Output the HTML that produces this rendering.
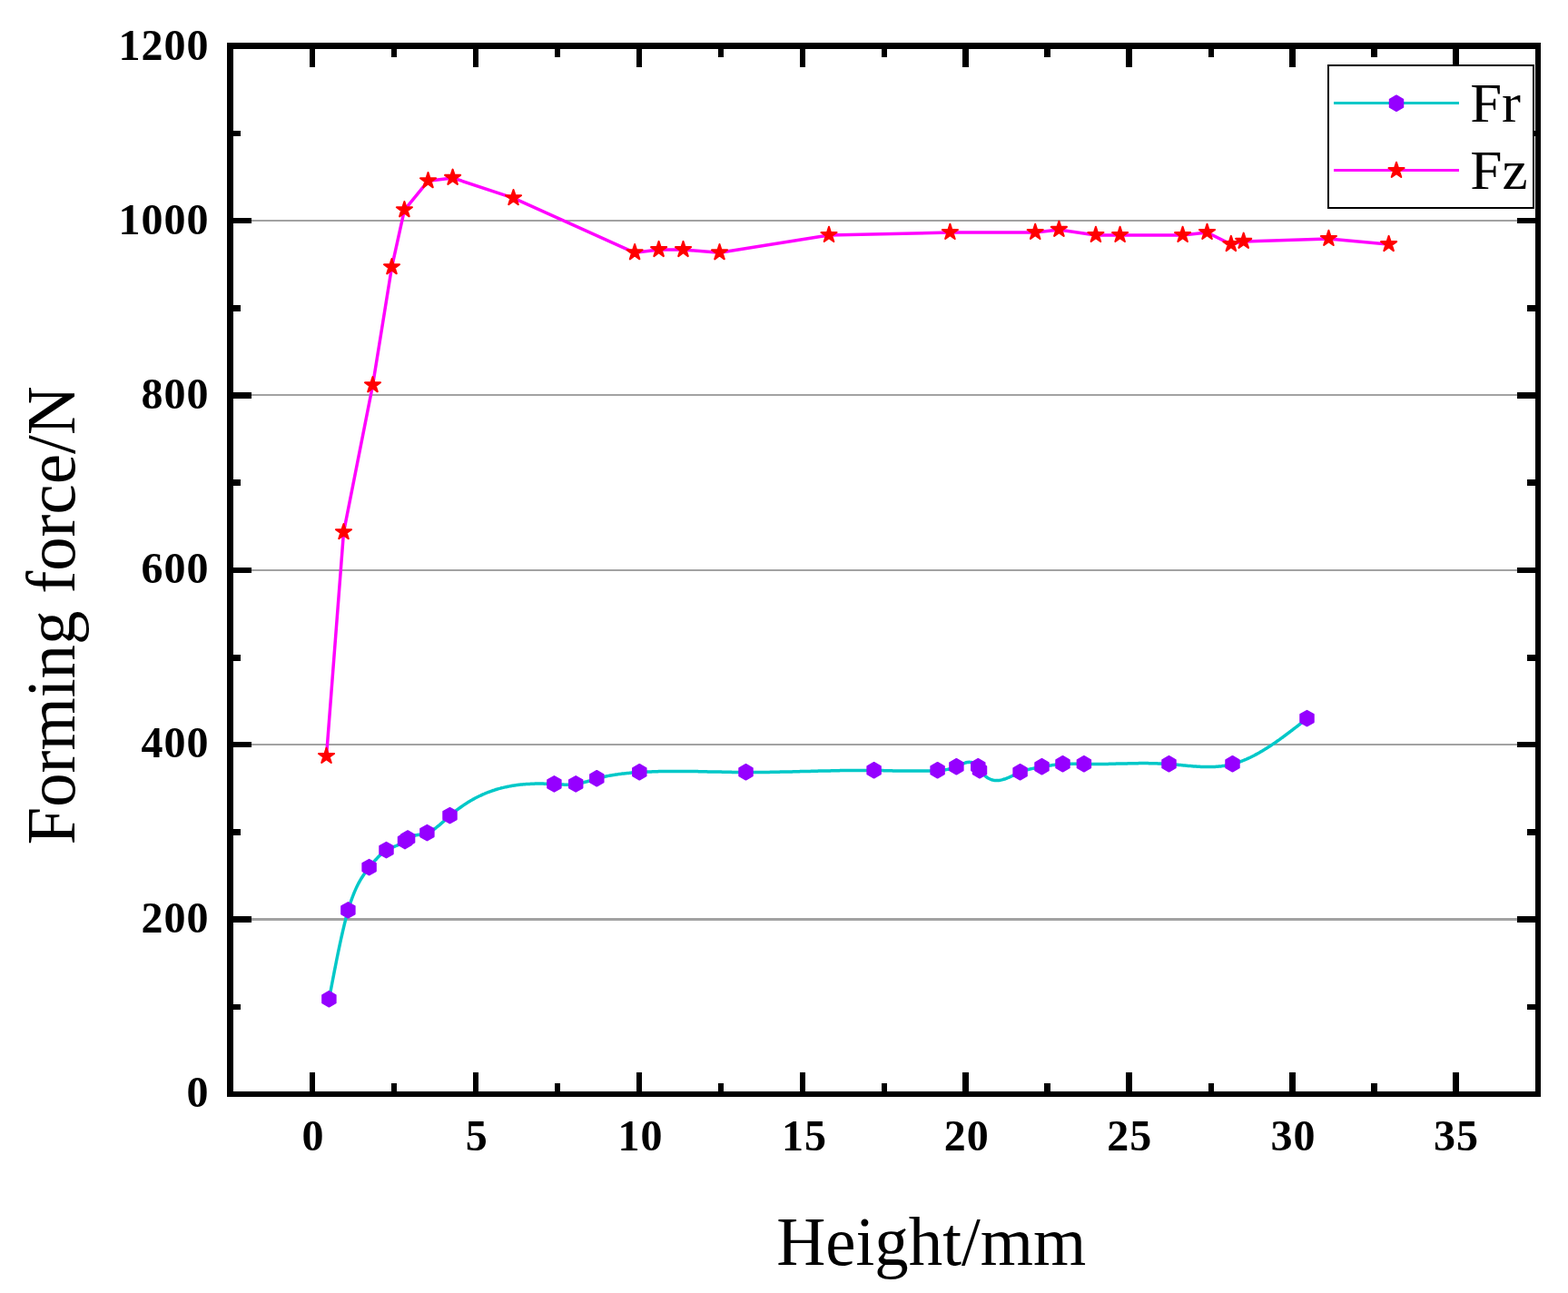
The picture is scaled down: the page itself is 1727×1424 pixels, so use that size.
<!DOCTYPE html>
<html lang="en"><head><meta charset="utf-8"><title>Forming force vs height</title>
<style>html,body{margin:0;padding:0;background:#fff}body{width:1727px;height:1424px;overflow:hidden}svg{display:block}</style></head>
<body>
<svg width="1727" height="1424" viewBox="0 0 1727 1424">
<rect x="0" y="0" width="1727" height="1424" fill="#fff"/>
<g fill="#a2a2a2" shape-rendering="crispEdges">
<rect x="257" y="1011" width="1434" height="3"/>
<rect x="257" y="819" width="1434" height="2"/>
<rect x="257" y="627" width="1434" height="2"/>
<rect x="257" y="434" width="1434" height="2"/>
<rect x="257" y="242" width="1434" height="2"/>
</g>
<g fill="#000" shape-rendering="crispEdges">
<rect x="250" y="47" width="1447" height="7"/>
<rect x="250" y="1202" width="1447" height="6"/>
<rect x="250" y="47" width="7" height="1161"/>
<rect x="1691" y="47" width="6" height="1161"/>
<rect x="341" y="1181" width="6" height="21"/>
<rect x="341" y="54" width="6" height="20"/>
<rect x="521" y="1181" width="6" height="21"/>
<rect x="521" y="54" width="6" height="20"/>
<rect x="701" y="1181" width="6" height="21"/>
<rect x="701" y="54" width="6" height="20"/>
<rect x="881" y="1181" width="6" height="21"/>
<rect x="881" y="54" width="6" height="20"/>
<rect x="1060" y="1181" width="7" height="21"/>
<rect x="1060" y="54" width="7" height="20"/>
<rect x="1240" y="1181" width="7" height="21"/>
<rect x="1240" y="54" width="7" height="20"/>
<rect x="1420" y="1181" width="7" height="21"/>
<rect x="1420" y="54" width="7" height="20"/>
<rect x="1600" y="1181" width="7" height="21"/>
<rect x="1600" y="54" width="7" height="20"/>
<rect x="431" y="1193" width="6" height="9"/>
<rect x="431" y="54" width="6" height="9"/>
<rect x="611" y="1193" width="6" height="9"/>
<rect x="611" y="54" width="6" height="9"/>
<rect x="791" y="1193" width="6" height="9"/>
<rect x="791" y="54" width="6" height="9"/>
<rect x="971" y="1193" width="6" height="9"/>
<rect x="971" y="54" width="6" height="9"/>
<rect x="1150" y="1193" width="7" height="9"/>
<rect x="1150" y="54" width="7" height="9"/>
<rect x="1331" y="1193" width="6" height="9"/>
<rect x="1331" y="54" width="6" height="9"/>
<rect x="1510" y="1193" width="7" height="9"/>
<rect x="1510" y="54" width="7" height="9"/>
<rect x="257" y="1009" width="20" height="7"/>
<rect x="1671" y="1009" width="20" height="7"/>
<rect x="257" y="817" width="20" height="6"/>
<rect x="1671" y="817" width="20" height="6"/>
<rect x="257" y="625" width="20" height="6"/>
<rect x="1671" y="625" width="20" height="6"/>
<rect x="257" y="432" width="20" height="7"/>
<rect x="1671" y="432" width="20" height="7"/>
<rect x="257" y="240" width="20" height="6"/>
<rect x="1671" y="240" width="20" height="6"/>
<rect x="257" y="1106" width="8" height="6"/>
<rect x="1682" y="1106" width="9" height="6"/>
<rect x="257" y="913" width="8" height="7"/>
<rect x="1682" y="913" width="9" height="7"/>
<rect x="257" y="721" width="8" height="7"/>
<rect x="1682" y="721" width="9" height="7"/>
<rect x="257" y="528" width="8" height="7"/>
<rect x="1682" y="528" width="9" height="7"/>
<rect x="257" y="336" width="8" height="7"/>
<rect x="1682" y="336" width="9" height="7"/>
<rect x="257" y="144" width="8" height="6"/>
<rect x="1682" y="144" width="9" height="6"/>
</g>
<path d="M362.4,1100.5 L363.4,1095.2 L364.4,1090.0 L365.4,1084.7 L366.4,1079.5 L367.4,1074.3 L368.4,1069.2 L369.4,1064.1 L370.4,1059.0 L371.4,1054.0 L372.4,1049.1 L373.4,1044.3 L374.4,1039.6 L375.4,1035.0 L376.4,1030.5 L377.4,1026.1 L378.4,1021.8 L379.4,1017.7 L380.4,1013.7 L381.4,1009.8 L382.4,1006.1 L383.4,1002.6 L384.4,999.2 L385.4,996.1 L386.4,993.0 L387.4,990.2 L388.4,987.5 L389.4,984.9 L390.4,982.4 L391.4,980.1 L392.4,977.9 L393.4,975.8 L394.4,973.8 L395.4,971.9 L396.4,970.1 L397.4,968.4 L398.4,966.8 L399.4,965.2 L400.4,963.7 L401.4,962.3 L402.4,960.9 L403.4,959.5 L404.4,958.2 L405.4,956.9 L406.4,955.7 L406.6,955.4 L407.4,954.4 L408.4,953.2 L409.4,951.9 L410.4,950.7 L411.4,949.6 L412.4,948.4 L413.4,947.3 L414.4,946.2 L415.4,945.1 L416.4,944.0 L417.4,943.0 L418.4,942.1 L419.4,941.1 L420.4,940.2 L421.4,939.4 L422.4,938.6 L423.4,937.8 L424.4,937.1 L425.4,936.5 L425.5,936.4 L426.4,935.9 L427.4,935.3 L428.4,934.8 L429.4,934.3 L430.4,933.9 L431.4,933.4 L432.4,933.0 L433.4,932.7 L434.4,932.3 L435.4,931.9 L436.4,931.5 L437.4,931.1 L438.4,930.7 L439.4,930.2 L440.4,929.8 L441.4,929.3 L442.4,928.7 L443.4,928.1 L444.4,927.5 L445.4,926.8 L446.0,926.3 L446.4,926.0 L447.4,925.2 L448.4,924.3 L449.1,923.8 L449.4,923.6 L450.4,922.9 L451.4,922.3 L452.4,921.8 L453.4,921.3 L454.4,920.9 L455.4,920.6 L456.4,920.3 L457.4,920.0 L458.4,919.8 L459.4,919.6 L460.4,919.5 L461.4,919.3 L462.4,919.2 L463.4,919.0 L464.4,918.9 L465.4,918.7 L466.4,918.5 L467.4,918.3 L468.4,918.0 L469.4,917.7 L470.4,917.4 L471.4,917.0 L472.4,916.6 L473.4,916.1 L474.4,915.5 L475.4,915.0 L476.4,914.4 L477.4,913.7 L478.4,913.0 L479.4,912.3 L480.4,911.5 L481.4,910.7 L482.4,909.9 L483.4,909.1 L484.4,908.3 L485.4,907.4 L486.4,906.5 L487.4,905.6 L488.4,904.8 L489.4,903.9 L490.4,903.0 L491.4,902.0 L492.4,901.1 L493.4,900.3 L494.4,899.4 L495.4,898.5 L495.5,898.4 L496.4,897.6 L497.4,896.8 L498.4,895.9 L499.4,895.1 L500.4,894.3 L501.4,893.5 L502.4,892.7 L503.4,891.9 L504.4,891.2 L505.4,890.4 L506.4,889.7 L507.4,889.0 L508.4,888.3 L509.4,887.6 L510.4,886.9 L511.4,886.2 L512.4,885.6 L513.4,884.9 L514.4,884.3 L515.4,883.6 L516.4,883.0 L517.4,882.4 L518.4,881.8 L519.4,881.3 L520.4,880.7 L521.4,880.1 L522.4,879.6 L523.4,879.0 L524.4,878.5 L525.4,878.0 L526.4,877.5 L527.4,877.0 L528.4,876.5 L529.4,876.1 L530.4,875.6 L531.4,875.1 L532.4,874.7 L533.4,874.3 L534.4,873.8 L535.4,873.4 L536.4,873.0 L537.4,872.6 L538.4,872.3 L539.4,871.9 L540.4,871.5 L541.4,871.2 L542.4,870.8 L543.4,870.5 L544.4,870.2 L545.4,869.8 L546.4,869.5 L547.4,869.2 L548.4,868.9 L549.4,868.6 L550.4,868.4 L551.4,868.1 L552.4,867.8 L553.4,867.6 L554.4,867.4 L555.4,867.1 L556.4,866.9 L557.4,866.7 L558.4,866.5 L559.4,866.3 L560.4,866.1 L561.4,865.9 L562.4,865.7 L563.4,865.5 L564.4,865.3 L565.4,865.2 L566.4,865.0 L567.4,864.9 L568.4,864.7 L569.4,864.6 L570.4,864.5 L571.4,864.3 L572.4,864.2 L573.4,864.1 L574.4,864.0 L575.4,863.9 L576.4,863.8 L577.4,863.7 L578.4,863.7 L579.4,863.6 L580.4,863.5 L581.4,863.5 L582.4,863.4 L583.4,863.4 L584.4,863.3 L585.4,863.3 L586.4,863.2 L587.4,863.2 L588.4,863.2 L589.4,863.1 L590.4,863.1 L591.4,863.1 L592.4,863.1 L593.4,863.1 L594.4,863.1 L595.4,863.1 L596.4,863.1 L597.4,863.1 L598.4,863.1 L599.4,863.2 L600.4,863.2 L601.4,863.2 L602.4,863.2 L603.4,863.3 L604.4,863.3 L605.4,863.4 L606.4,863.4 L607.4,863.4 L608.4,863.5 L609.4,863.5 L610.4,863.6 L611.4,863.7 L612.4,863.7 L613.4,863.8 L614.4,863.8 L615.4,863.9 L616.4,864.0 L617.4,864.0 L618.4,864.1 L619.4,864.1 L620.4,864.1 L621.4,864.2 L622.4,864.2 L623.4,864.2 L624.4,864.2 L625.4,864.2 L626.4,864.2 L627.4,864.2 L628.4,864.1 L629.4,864.1 L630.4,864.0 L631.4,863.9 L632.4,863.8 L633.4,863.7 L634.2,863.6 L634.4,863.6 L635.4,863.4 L636.4,863.2 L637.4,863.0 L638.4,862.8 L639.4,862.6 L640.4,862.4 L641.4,862.1 L642.4,861.9 L643.4,861.6 L644.4,861.3 L645.4,861.0 L646.4,860.8 L647.4,860.5 L648.4,860.2 L649.4,859.9 L650.4,859.6 L651.4,859.2 L652.4,858.9 L653.4,858.6 L654.4,858.3 L655.4,858.0 L656.4,857.8 L657.3,857.5 L657.4,857.5 L658.4,857.2 L659.4,856.9 L660.4,856.7 L661.4,856.4 L662.4,856.2 L663.4,855.9 L664.4,855.7 L665.4,855.5 L666.4,855.2 L667.4,855.0 L668.4,854.8 L669.4,854.6 L670.4,854.4 L671.4,854.2 L672.4,854.0 L673.4,853.9 L674.4,853.7 L675.4,853.5 L676.4,853.4 L677.4,853.2 L678.4,853.0 L679.4,852.9 L680.4,852.8 L681.4,852.6 L682.4,852.5 L683.4,852.4 L684.4,852.2 L685.4,852.1 L686.4,852.0 L687.4,851.9 L688.4,851.8 L689.4,851.7 L690.4,851.6 L691.4,851.5 L692.4,851.4 L693.4,851.3 L694.4,851.2 L695.4,851.1 L696.4,851.0 L697.4,851.0 L698.4,850.9 L699.4,850.8 L700.4,850.7 L701.4,850.7 L702.4,850.6 L703.4,850.6 L704.3,850.5 L704.4,850.5 L705.4,850.4 L706.4,850.4 L707.4,850.3 L708.4,850.3 L709.4,850.2 L710.4,850.2 L711.4,850.1 L712.4,850.1 L713.4,850.0 L714.4,850.0 L715.4,850.0 L716.4,849.9 L717.4,849.9 L718.4,849.8 L719.4,849.8 L720.4,849.8 L721.4,849.7 L722.4,849.7 L723.4,849.7 L724.4,849.7 L725.4,849.6 L726.4,849.6 L727.4,849.6 L728.4,849.6 L729.4,849.6 L730.4,849.5 L731.4,849.5 L732.4,849.5 L733.4,849.5 L734.4,849.5 L735.4,849.5 L736.4,849.5 L737.4,849.5 L738.4,849.4 L739.4,849.4 L740.4,849.4 L741.4,849.4 L742.4,849.4 L743.4,849.4 L744.4,849.4 L745.4,849.4 L746.4,849.4 L747.4,849.4 L748.4,849.4 L749.4,849.4 L750.4,849.4 L751.4,849.4 L752.4,849.5 L753.4,849.5 L754.4,849.5 L755.4,849.5 L756.4,849.5 L757.4,849.5 L758.4,849.5 L759.4,849.5 L760.4,849.5 L761.4,849.5 L762.4,849.6 L763.4,849.6 L764.4,849.6 L765.4,849.6 L766.4,849.6 L767.4,849.6 L768.4,849.6 L769.4,849.7 L770.4,849.7 L771.4,849.7 L772.4,849.7 L773.4,849.7 L774.4,849.8 L775.4,849.8 L776.4,849.8 L777.4,849.8 L778.4,849.8 L779.4,849.9 L780.4,849.9 L781.4,849.9 L782.4,849.9 L783.4,849.9 L784.4,849.9 L785.4,850.0 L786.4,850.0 L787.4,850.0 L788.4,850.0 L789.4,850.0 L790.4,850.1 L791.4,850.1 L792.4,850.1 L793.4,850.1 L794.4,850.1 L795.4,850.2 L796.4,850.2 L797.4,850.2 L798.4,850.2 L799.4,850.2 L800.4,850.3 L801.4,850.3 L802.4,850.3 L803.4,850.3 L804.4,850.3 L805.4,850.3 L806.4,850.4 L807.4,850.4 L808.4,850.4 L809.4,850.4 L810.4,850.4 L811.4,850.4 L812.4,850.4 L813.4,850.4 L814.4,850.5 L815.4,850.5 L816.4,850.5 L817.4,850.5 L818.4,850.5 L819.4,850.5 L820.4,850.5 L821.4,850.5 L821.5,850.5 L822.4,850.5 L823.4,850.5 L824.4,850.5 L825.4,850.5 L826.4,850.5 L827.4,850.5 L828.4,850.5 L829.4,850.5 L830.4,850.5 L831.4,850.5 L832.4,850.5 L833.4,850.5 L834.4,850.5 L835.4,850.5 L836.4,850.5 L837.4,850.5 L838.4,850.5 L839.4,850.4 L840.4,850.4 L841.4,850.4 L842.4,850.4 L843.4,850.4 L844.4,850.4 L845.4,850.4 L846.4,850.4 L847.4,850.4 L848.4,850.3 L849.4,850.3 L850.4,850.3 L851.4,850.3 L852.4,850.3 L853.4,850.3 L854.4,850.2 L855.4,850.2 L856.4,850.2 L857.4,850.2 L858.4,850.2 L859.4,850.1 L860.4,850.1 L861.4,850.1 L862.4,850.1 L863.4,850.1 L864.4,850.0 L865.4,850.0 L866.4,850.0 L867.4,850.0 L868.4,850.0 L869.4,849.9 L870.4,849.9 L871.4,849.9 L872.4,849.9 L873.4,849.8 L874.4,849.8 L875.4,849.8 L876.4,849.8 L877.4,849.7 L878.4,849.7 L879.4,849.7 L880.4,849.7 L881.4,849.6 L882.4,849.6 L883.4,849.6 L884.4,849.6 L885.4,849.5 L886.4,849.5 L887.4,849.5 L888.4,849.5 L889.4,849.4 L890.4,849.4 L891.4,849.4 L892.4,849.4 L893.4,849.3 L894.4,849.3 L895.4,849.3 L896.4,849.3 L897.4,849.2 L898.4,849.2 L899.4,849.2 L900.4,849.2 L901.4,849.1 L902.4,849.1 L903.4,849.1 L904.4,849.1 L905.4,849.1 L906.4,849.0 L907.4,849.0 L908.4,849.0 L909.4,849.0 L910.4,848.9 L911.4,848.9 L912.4,848.9 L913.4,848.9 L914.4,848.9 L915.4,848.8 L916.4,848.8 L917.4,848.8 L918.4,848.8 L919.4,848.8 L920.4,848.7 L921.4,848.7 L922.4,848.7 L923.4,848.7 L924.4,848.7 L925.4,848.6 L926.4,848.6 L927.4,848.6 L928.4,848.6 L929.4,848.6 L930.4,848.6 L931.4,848.6 L932.4,848.5 L933.4,848.5 L934.4,848.5 L935.4,848.5 L936.4,848.5 L937.4,848.5 L938.4,848.5 L939.4,848.5 L940.4,848.5 L941.4,848.5 L942.4,848.5 L943.4,848.5 L944.4,848.4 L945.4,848.4 L946.4,848.4 L947.4,848.4 L948.4,848.4 L949.4,848.4 L950.4,848.4 L951.4,848.4 L952.4,848.4 L953.4,848.4 L954.4,848.4 L955.4,848.4 L956.4,848.4 L957.4,848.5 L958.4,848.5 L959.4,848.5 L960.4,848.5 L961.4,848.5 L962.4,848.5 L962.6,848.5 L963.4,848.5 L964.4,848.5 L965.4,848.5 L966.4,848.5 L967.4,848.6 L968.4,848.6 L969.4,848.6 L970.4,848.6 L971.4,848.6 L972.4,848.6 L973.4,848.7 L974.4,848.7 L975.4,848.7 L976.4,848.7 L977.4,848.7 L978.4,848.8 L979.4,848.8 L980.4,848.8 L981.4,848.8 L982.4,848.8 L983.4,848.9 L984.4,848.9 L985.4,848.9 L986.4,848.9 L987.4,848.9 L988.4,849.0 L989.4,849.0 L990.4,849.0 L991.4,849.0 L992.4,849.0 L993.4,849.0 L994.4,849.1 L995.4,849.1 L996.4,849.1 L997.4,849.1 L998.4,849.1 L999.4,849.1 L1000.4,849.1 L1001.4,849.1 L1002.4,849.1 L1003.4,849.1 L1004.4,849.1 L1005.4,849.1 L1006.4,849.1 L1007.4,849.1 L1008.4,849.1 L1009.4,849.1 L1010.4,849.1 L1011.4,849.1 L1012.4,849.1 L1013.4,849.1 L1014.4,849.1 L1015.4,849.1 L1016.4,849.1 L1017.4,849.1 L1018.4,849.0 L1019.4,849.0 L1020.4,849.0 L1021.4,849.0 L1022.4,848.9 L1023.4,848.9 L1024.4,848.9 L1025.4,848.8 L1026.4,848.8 L1027.4,848.8 L1028.4,848.7 L1029.4,848.7 L1030.4,848.6 L1031.4,848.6 L1032.4,848.5 L1032.6,848.5 L1033.4,848.5 L1034.4,848.4 L1035.4,848.3 L1036.4,848.3 L1037.4,848.2 L1038.4,848.1 L1039.4,848.0 L1040.4,847.9 L1041.4,847.7 L1042.4,847.6 L1043.4,847.4 L1044.4,847.2 L1045.4,847.0 L1046.4,846.8 L1047.4,846.6 L1048.4,846.3 L1049.4,846.0 L1050.4,845.7 L1051.4,845.3 L1052.4,844.9 L1053.4,844.5 L1054.4,844.1 L1055.4,843.6 L1056.4,843.1 L1057.4,842.6 L1058.4,842.1 L1059.4,841.6 L1060.4,841.2 L1061.4,840.7 L1062.4,840.4 L1063.4,840.0 L1064.4,839.7 L1065.4,839.5 L1066.4,839.4 L1067.4,839.3 L1068.4,839.4 L1069.4,839.5 L1070.4,839.8 L1071.4,840.1 L1072.4,840.6 L1073.4,841.3 L1074.4,842.1 L1075.4,843.0 L1076.4,844.1 L1076.7,844.5 L1077.4,845.4 L1078.4,846.8 L1079.4,848.2 L1079.6,848.5 L1080.4,849.6 L1081.4,850.8 L1082.4,852.0 L1083.4,853.0 L1084.4,854.0 L1085.4,854.8 L1086.4,855.6 L1087.4,856.4 L1088.4,857.0 L1089.4,857.5 L1090.4,858.0 L1091.4,858.4 L1092.4,858.8 L1093.4,859.1 L1094.4,859.3 L1095.4,859.4 L1096.4,859.6 L1097.4,859.6 L1098.4,859.6 L1099.4,859.5 L1100.4,859.4 L1101.4,859.3 L1102.4,859.1 L1103.4,858.9 L1104.4,858.6 L1105.4,858.3 L1106.4,858.0 L1107.4,857.7 L1108.4,857.3 L1109.4,856.9 L1110.4,856.5 L1111.4,856.1 L1112.4,855.6 L1113.4,855.2 L1114.4,854.7 L1115.4,854.2 L1116.4,853.8 L1117.4,853.3 L1118.4,852.8 L1119.4,852.3 L1120.4,851.9 L1121.4,851.4 L1122.4,851.0 L1123.4,850.6 L1123.6,850.5 L1124.4,850.2 L1125.4,849.8 L1126.4,849.4 L1127.4,849.1 L1128.4,848.8 L1129.4,848.4 L1130.4,848.1 L1131.4,847.9 L1132.4,847.6 L1133.4,847.3 L1134.4,847.1 L1135.4,846.8 L1136.4,846.6 L1137.4,846.4 L1138.4,846.2 L1139.4,846.0 L1140.4,845.8 L1141.4,845.6 L1142.4,845.4 L1143.4,845.2 L1144.4,845.0 L1145.4,844.9 L1146.4,844.7 L1147.4,844.5 L1147.5,844.5 L1148.4,844.3 L1149.4,844.2 L1150.4,844.0 L1151.4,843.8 L1152.4,843.7 L1153.4,843.5 L1154.4,843.4 L1155.4,843.2 L1156.4,843.1 L1157.4,842.9 L1158.4,842.8 L1159.4,842.6 L1160.4,842.5 L1161.4,842.4 L1162.4,842.2 L1163.4,842.1 L1164.4,842.0 L1165.4,841.9 L1166.4,841.8 L1167.4,841.7 L1168.4,841.6 L1169.4,841.6 L1170.4,841.5 L1170.5,841.5 L1171.4,841.4 L1172.4,841.4 L1173.4,841.4 L1174.4,841.3 L1175.4,841.3 L1176.4,841.3 L1177.4,841.3 L1178.4,841.3 L1179.4,841.3 L1180.4,841.3 L1181.4,841.3 L1182.4,841.3 L1183.4,841.3 L1184.4,841.3 L1185.4,841.3 L1186.4,841.3 L1187.4,841.4 L1188.4,841.4 L1189.4,841.4 L1190.4,841.4 L1191.4,841.5 L1192.4,841.5 L1193.4,841.5 L1193.9,841.5 L1194.4,841.5 L1195.4,841.5 L1196.4,841.5 L1197.4,841.5 L1198.4,841.6 L1199.4,841.6 L1200.4,841.6 L1201.4,841.6 L1202.4,841.6 L1203.4,841.6 L1204.4,841.6 L1205.4,841.6 L1206.4,841.6 L1207.4,841.5 L1208.4,841.5 L1209.4,841.5 L1210.4,841.5 L1211.4,841.5 L1212.4,841.5 L1213.4,841.5 L1214.4,841.5 L1215.4,841.4 L1216.4,841.4 L1217.4,841.4 L1218.4,841.4 L1219.4,841.4 L1220.4,841.4 L1221.4,841.3 L1222.4,841.3 L1223.4,841.3 L1224.4,841.3 L1225.4,841.2 L1226.4,841.2 L1227.4,841.2 L1228.4,841.2 L1229.4,841.1 L1230.4,841.1 L1231.4,841.1 L1232.4,841.1 L1233.4,841.0 L1234.4,841.0 L1235.4,841.0 L1236.4,841.0 L1237.4,840.9 L1238.4,840.9 L1239.4,840.9 L1240.4,840.9 L1241.4,840.9 L1242.4,840.8 L1243.4,840.8 L1244.4,840.8 L1245.4,840.8 L1246.4,840.8 L1247.4,840.7 L1248.4,840.7 L1249.4,840.7 L1250.4,840.7 L1251.4,840.7 L1252.4,840.7 L1253.4,840.7 L1254.4,840.6 L1255.4,840.6 L1256.4,840.6 L1257.4,840.6 L1258.4,840.6 L1259.4,840.6 L1260.4,840.6 L1261.4,840.6 L1262.4,840.6 L1263.4,840.6 L1264.4,840.6 L1265.4,840.7 L1266.4,840.7 L1267.4,840.7 L1268.4,840.7 L1269.4,840.7 L1270.4,840.7 L1271.4,840.8 L1272.4,840.8 L1273.4,840.8 L1274.4,840.8 L1275.4,840.9 L1276.4,840.9 L1277.4,840.9 L1278.4,841.0 L1279.4,841.0 L1280.4,841.1 L1281.4,841.1 L1282.4,841.2 L1283.4,841.2 L1284.4,841.3 L1285.4,841.4 L1286.4,841.4 L1287.4,841.5 L1287.5,841.5 L1288.4,841.6 L1289.4,841.6 L1290.4,841.7 L1291.4,841.8 L1292.4,841.9 L1293.4,842.0 L1294.4,842.1 L1295.4,842.1 L1296.4,842.2 L1297.4,842.3 L1298.4,842.4 L1299.4,842.5 L1300.4,842.6 L1301.4,842.7 L1302.4,842.8 L1303.4,842.9 L1304.4,843.0 L1305.4,843.1 L1306.4,843.2 L1307.4,843.3 L1308.4,843.4 L1309.4,843.5 L1310.4,843.5 L1311.4,843.6 L1312.4,843.7 L1313.4,843.8 L1314.4,843.9 L1315.4,844.0 L1316.4,844.0 L1317.4,844.1 L1318.4,844.2 L1319.4,844.2 L1320.4,844.3 L1321.4,844.3 L1322.4,844.4 L1323.4,844.4 L1324.4,844.5 L1325.4,844.5 L1326.4,844.5 L1327.4,844.6 L1328.4,844.6 L1329.4,844.6 L1330.4,844.6 L1331.4,844.6 L1332.4,844.6 L1333.4,844.6 L1334.4,844.6 L1335.4,844.5 L1336.4,844.5 L1337.4,844.4 L1338.4,844.4 L1339.4,844.3 L1340.4,844.3 L1341.4,844.2 L1342.4,844.1 L1343.4,844.0 L1344.4,843.9 L1345.4,843.8 L1346.4,843.6 L1347.4,843.5 L1348.4,843.4 L1349.4,843.2 L1350.4,843.0 L1351.4,842.9 L1352.4,842.7 L1353.4,842.5 L1354.4,842.2 L1355.4,842.0 L1356.4,841.8 L1357.4,841.5 L1357.5,841.5 L1358.4,841.3 L1359.4,841.0 L1360.4,840.7 L1361.4,840.4 L1362.4,840.1 L1363.4,839.7 L1364.4,839.4 L1365.4,839.1 L1366.4,838.7 L1367.4,838.3 L1368.4,837.9 L1369.4,837.5 L1370.4,837.1 L1371.4,836.7 L1372.4,836.3 L1373.4,835.8 L1374.4,835.4 L1375.4,834.9 L1376.4,834.5 L1377.4,834.0 L1378.4,833.5 L1379.4,833.0 L1380.4,832.5 L1381.4,832.0 L1382.4,831.4 L1383.4,830.9 L1384.4,830.4 L1385.4,829.8 L1386.4,829.3 L1387.4,828.7 L1388.4,828.1 L1389.4,827.5 L1390.4,826.9 L1391.4,826.3 L1392.4,825.7 L1393.4,825.1 L1394.4,824.5 L1395.4,823.8 L1396.4,823.2 L1397.4,822.6 L1398.4,821.9 L1399.4,821.3 L1400.4,820.6 L1401.4,819.9 L1402.4,819.2 L1403.4,818.6 L1404.4,817.9 L1405.4,817.2 L1406.4,816.5 L1407.4,815.8 L1408.4,815.1 L1409.4,814.4 L1410.4,813.6 L1411.4,812.9 L1412.4,812.2 L1413.4,811.5 L1414.4,810.7 L1415.4,810.0 L1416.4,809.2 L1417.4,808.5 L1418.4,807.7 L1419.4,807.0 L1420.4,806.2 L1421.4,805.5 L1422.4,804.7 L1423.4,804.0 L1424.4,803.2 L1425.4,802.4 L1426.4,801.6 L1427.4,800.9 L1428.4,800.1 L1429.4,799.3 L1430.4,798.5 L1431.4,797.8 L1432.4,797.0 L1433.4,796.2 L1434.4,795.4 L1435.4,794.6 L1436.4,793.8 L1437.4,793.1 L1438.4,792.3 L1439.4,791.5 L1439.5,791.4" fill="none" stroke="#00c8c8" stroke-width="3.5" stroke-linejoin="round"/>
<g fill="#9500ff" stroke="#9500ff" stroke-width="2" stroke-linejoin="round">
<polygon points="362.40,1091.90 369.63,1096.08 369.63,1104.42 362.40,1108.60 355.17,1104.42 355.17,1096.08"/>
<polygon points="383.40,994.00 390.63,998.18 390.63,1006.52 383.40,1010.70 376.17,1006.52 376.17,998.18"/>
<polygon points="406.60,946.80 413.83,950.98 413.83,959.32 406.60,963.50 399.37,959.32 399.37,950.98"/>
<polygon points="425.50,927.80 432.73,931.98 432.73,940.32 425.50,944.50 418.27,940.32 418.27,931.98"/>
<polygon points="446.00,917.70 453.23,921.88 453.23,930.22 446.00,934.40 438.77,930.22 438.77,921.88"/>
<polygon points="449.10,915.20 456.33,919.38 456.33,927.72 449.10,931.90 441.87,927.72 441.87,919.38"/>
<polygon points="470.40,908.80 477.63,912.98 477.63,921.32 470.40,925.50 463.17,921.32 463.17,912.98"/>
<polygon points="495.50,889.80 502.73,893.98 502.73,902.32 495.50,906.50 488.27,902.32 488.27,893.98"/>
<polygon points="610.40,855.00 617.63,859.18 617.63,867.52 610.40,871.70 603.17,867.52 603.17,859.18"/>
<polygon points="634.20,855.00 641.43,859.18 641.43,867.52 634.20,871.70 626.97,867.52 626.97,859.18"/>
<polygon points="657.30,848.90 664.53,853.08 664.53,861.42 657.30,865.60 650.07,861.42 650.07,853.08"/>
<polygon points="704.30,841.90 711.53,846.08 711.53,854.42 704.30,858.60 697.07,854.42 697.07,846.08"/>
<polygon points="821.50,841.90 828.73,846.08 828.73,854.42 821.50,858.60 814.27,854.42 814.27,846.08"/>
<polygon points="962.60,839.90 969.83,844.08 969.83,852.42 962.60,856.60 955.37,852.42 955.37,844.08"/>
<polygon points="1032.60,839.90 1039.83,844.08 1039.83,852.42 1032.60,856.60 1025.37,852.42 1025.37,844.08"/>
<polygon points="1053.40,835.90 1060.63,840.08 1060.63,848.42 1053.40,852.60 1046.17,848.42 1046.17,840.08"/>
<polygon points="1077.30,835.90 1084.53,840.08 1084.53,848.42 1077.30,852.60 1070.07,848.42 1070.07,840.08"/>
<polygon points="1079.00,839.90 1086.23,844.08 1086.23,852.42 1079.00,856.60 1071.77,852.42 1071.77,844.08"/>
<polygon points="1123.60,841.90 1130.83,846.08 1130.83,854.42 1123.60,858.60 1116.37,854.42 1116.37,846.08"/>
<polygon points="1147.50,835.90 1154.73,840.08 1154.73,848.42 1147.50,852.60 1140.27,848.42 1140.27,840.08"/>
<polygon points="1170.50,832.90 1177.73,837.08 1177.73,845.42 1170.50,849.60 1163.27,845.42 1163.27,837.08"/>
<polygon points="1193.90,832.90 1201.13,837.08 1201.13,845.42 1193.90,849.60 1186.67,845.42 1186.67,837.08"/>
<polygon points="1287.50,832.90 1294.73,837.08 1294.73,845.42 1287.50,849.60 1280.27,845.42 1280.27,837.08"/>
<polygon points="1357.50,832.90 1364.73,837.08 1364.73,845.42 1357.50,849.60 1350.27,845.42 1350.27,837.08"/>
<polygon points="1439.50,782.80 1446.73,786.98 1446.73,795.32 1439.50,799.50 1432.27,795.32 1432.27,786.98"/>
</g>
<path d="M359.5,833.0 L378.5,586.2 L410.5,424.3 L431.5,294.3 L445.4,231.3 L471.5,199.3 L498.6,195.9 L565.5,218.2 L699.1,278.3 L725.6,275.1 L752.5,275.1 L792.5,278.3 L913.0,259.0 L1046.4,256.0 L1140.2,256.0 L1166.4,252.9 L1206.9,259.0 L1233.6,259.0 L1302.6,259.0 L1329.5,256.0 L1355.9,269.1 L1369.7,265.9 L1463.4,263.0 L1529.6,269.1" fill="none" stroke="#ff00ff" stroke-width="3.5" stroke-linejoin="round"/>
<g fill="#ff0000" stroke="#ff0000" stroke-width="2" stroke-linejoin="round">
<polygon points="359.50,823.75 361.52,829.97 368.06,829.97 362.77,833.81 364.79,840.03 359.50,836.19 354.21,840.03 356.23,833.81 350.94,829.97 357.48,829.97"/>
<polygon points="378.50,576.95 380.52,583.17 387.06,583.17 381.77,587.01 383.79,593.23 378.50,589.39 373.21,593.23 375.23,587.01 369.94,583.17 376.48,583.17"/>
<polygon points="410.50,415.05 412.52,421.27 419.06,421.27 413.77,425.11 415.79,431.33 410.50,427.49 405.21,431.33 407.23,425.11 401.94,421.27 408.48,421.27"/>
<polygon points="431.50,285.05 433.52,291.27 440.06,291.27 434.77,295.11 436.79,301.33 431.50,297.49 426.21,301.33 428.23,295.11 422.94,291.27 429.48,291.27"/>
<polygon points="445.40,222.05 447.42,228.27 453.96,228.27 448.67,232.11 450.69,238.33 445.40,234.49 440.11,238.33 442.13,232.11 436.84,228.27 443.38,228.27"/>
<polygon points="471.50,190.05 473.52,196.27 480.06,196.27 474.77,200.11 476.79,206.33 471.50,202.49 466.21,206.33 468.23,200.11 462.94,196.27 469.48,196.27"/>
<polygon points="498.60,186.65 500.62,192.87 507.16,192.87 501.87,196.71 503.89,202.93 498.60,199.09 493.31,202.93 495.33,196.71 490.04,192.87 496.58,192.87"/>
<polygon points="565.50,208.95 567.52,215.17 574.06,215.17 568.77,219.01 570.79,225.23 565.50,221.39 560.21,225.23 562.23,219.01 556.94,215.17 563.48,215.17"/>
<polygon points="699.10,269.05 701.12,275.27 707.66,275.27 702.37,279.11 704.39,285.33 699.10,281.49 693.81,285.33 695.83,279.11 690.54,275.27 697.08,275.27"/>
<polygon points="725.60,265.85 727.62,272.07 734.16,272.07 728.87,275.91 730.89,282.13 725.60,278.29 720.31,282.13 722.33,275.91 717.04,272.07 723.58,272.07"/>
<polygon points="752.50,265.85 754.52,272.07 761.06,272.07 755.77,275.91 757.79,282.13 752.50,278.29 747.21,282.13 749.23,275.91 743.94,272.07 750.48,272.07"/>
<polygon points="792.50,269.05 794.52,275.27 801.06,275.27 795.77,279.11 797.79,285.33 792.50,281.49 787.21,285.33 789.23,279.11 783.94,275.27 790.48,275.27"/>
<polygon points="913.00,249.75 915.02,255.97 921.56,255.97 916.27,259.81 918.29,266.03 913.00,262.19 907.71,266.03 909.73,259.81 904.44,255.97 910.98,255.97"/>
<polygon points="1046.40,246.75 1048.42,252.97 1054.96,252.97 1049.67,256.81 1051.69,263.03 1046.40,259.19 1041.11,263.03 1043.13,256.81 1037.84,252.97 1044.38,252.97"/>
<polygon points="1140.20,246.75 1142.22,252.97 1148.76,252.97 1143.47,256.81 1145.49,263.03 1140.20,259.19 1134.91,263.03 1136.93,256.81 1131.64,252.97 1138.18,252.97"/>
<polygon points="1166.40,243.65 1168.42,249.87 1174.96,249.87 1169.67,253.71 1171.69,259.93 1166.40,256.09 1161.11,259.93 1163.13,253.71 1157.84,249.87 1164.38,249.87"/>
<polygon points="1206.90,249.75 1208.92,255.97 1215.46,255.97 1210.17,259.81 1212.19,266.03 1206.90,262.19 1201.61,266.03 1203.63,259.81 1198.34,255.97 1204.88,255.97"/>
<polygon points="1233.60,249.75 1235.62,255.97 1242.16,255.97 1236.87,259.81 1238.89,266.03 1233.60,262.19 1228.31,266.03 1230.33,259.81 1225.04,255.97 1231.58,255.97"/>
<polygon points="1302.60,249.75 1304.62,255.97 1311.16,255.97 1305.87,259.81 1307.89,266.03 1302.60,262.19 1297.31,266.03 1299.33,259.81 1294.04,255.97 1300.58,255.97"/>
<polygon points="1329.50,246.75 1331.52,252.97 1338.06,252.97 1332.77,256.81 1334.79,263.03 1329.50,259.19 1324.21,263.03 1326.23,256.81 1320.94,252.97 1327.48,252.97"/>
<polygon points="1355.90,259.85 1357.92,266.07 1364.46,266.07 1359.17,269.91 1361.19,276.13 1355.90,272.29 1350.61,276.13 1352.63,269.91 1347.34,266.07 1353.88,266.07"/>
<polygon points="1369.70,256.65 1371.72,262.87 1378.26,262.87 1372.97,266.71 1374.99,272.93 1369.70,269.09 1364.41,272.93 1366.43,266.71 1361.14,262.87 1367.68,262.87"/>
<polygon points="1463.40,253.75 1465.42,259.97 1471.96,259.97 1466.67,263.81 1468.69,270.03 1463.40,266.19 1458.11,270.03 1460.13,263.81 1454.84,259.97 1461.38,259.97"/>
<polygon points="1529.60,259.85 1531.62,266.07 1538.16,266.07 1532.87,269.91 1534.89,276.13 1529.60,272.29 1524.31,276.13 1526.33,269.91 1521.04,266.07 1527.58,266.07"/>
</g>
<rect x="1463" y="72" width="226" height="156.5" fill="#fff" stroke="#000" stroke-width="2" shape-rendering="crispEdges"/>
<rect x="1469" y="112" width="138" height="3" fill="#00c8c8" shape-rendering="crispEdges"/>
<polygon points="1538.00,105.40 1545.23,109.58 1545.23,117.92 1538.00,122.10 1530.77,117.92 1530.77,109.58" fill="#9500ff" stroke="#9500ff" stroke-width="2" stroke-linejoin="round"/>
<rect x="1469" y="186" width="138" height="3" fill="#ff00ff" shape-rendering="crispEdges"/>
<polygon points="1538.00,178.75 1540.02,184.97 1546.56,184.97 1541.27,188.81 1543.29,195.03 1538.00,191.19 1532.71,195.03 1534.73,188.81 1529.44,184.97 1535.98,184.97" fill="#ff0000" stroke="#ff0000" stroke-width="2" stroke-linejoin="round"/>
<g font-family="'Liberation Serif', serif" font-size="61.5" fill="#000">
<text transform="translate(1619.20,134.20) scale(1.0200,1.0000)">Fr</text>
<text transform="translate(1619.20,208.20) scale(1.0300,1.0000)">Fz</text>
</g>
<g font-family="'Liberation Serif', serif" font-weight="bold" font-size="48" fill="#000">
<text transform="translate(230.60,65.60)" text-anchor="end" letter-spacing="1">1200</text>
<text transform="translate(230.60,257.80)" text-anchor="end" letter-spacing="1">1000</text>
<text transform="translate(230.60,450.00)" text-anchor="end" letter-spacing="1">800</text>
<text transform="translate(230.60,642.20)" text-anchor="end" letter-spacing="1">600</text>
<text transform="translate(230.60,834.40)" text-anchor="end" letter-spacing="1">400</text>
<text transform="translate(230.60,1026.60)" text-anchor="end" letter-spacing="1">200</text>
<text transform="translate(230.60,1218.80)" text-anchor="end" letter-spacing="1">0</text>
<text transform="translate(345.00,1266.60)" text-anchor="middle" letter-spacing="1">0</text>
<text transform="translate(525.15,1266.60)" text-anchor="middle" letter-spacing="1">5</text>
<text transform="translate(705.50,1266.60)" text-anchor="middle" letter-spacing="1">10</text>
<text transform="translate(885.90,1266.60)" text-anchor="middle" letter-spacing="1">15</text>
<text transform="translate(1064.70,1266.60)" text-anchor="middle" letter-spacing="1">20</text>
<text transform="translate(1244.30,1266.60)" text-anchor="middle" letter-spacing="1">25</text>
<text transform="translate(1424.50,1266.60)" text-anchor="middle" letter-spacing="1">30</text>
<text transform="translate(1604.10,1266.60)" text-anchor="middle" letter-spacing="1">35</text>
</g>
<g font-family="'Liberation Serif', serif" font-size="75.5" fill="#000">
<text transform="translate(1025.80,1393.00) scale(0.9920,1.0000)" text-anchor="middle">Height/mm</text>
<text transform="translate(81.80,677.80) rotate(-90) scale(0.9920,1.0000)" text-anchor="middle">Forming force/N</text>
</g>
</svg>
</body></html>
